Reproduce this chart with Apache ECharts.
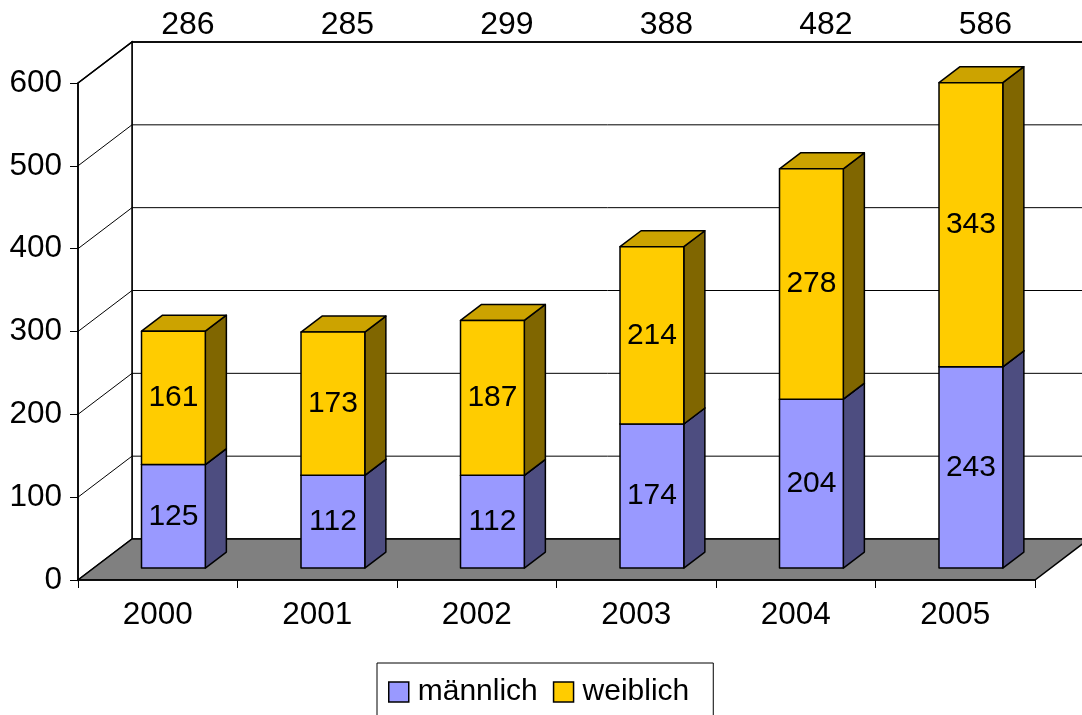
<!DOCTYPE html>
<html>
<head>
<meta charset="utf-8">
<script src="https://cdn.jsdelivr.net/npm/echarts@6/dist/echarts.min.js"></script>
<style>
  html, body { margin: 0; padding: 0; background: #fff; }
  #chart { width: 1082px; height: 715px; }
</style>
</head>
<body>
<div id="chart"></div>
<script>
const years = ['2000', '2001', '2002', '2003', '2004', '2005']
const maennlich = [125, 112, 112, 174, 204, 243]
const weiblich = [161, 173, 187, 214, 278, 343]
const yTicks = [0, 100, 200, 300, 400, 500, 600]

// pseudo 3d: depth vector of the plot box, bar placed between FRONT and BACK
const DEPTH = [54, -41]
const FRONT = 0.29
const BACK = 0.68
const BAR_RATIO = 0.4
const FONT = "'Liberation Sans', Arial, sans-serif"

const chart = echarts.init(document.getElementById('chart'))

function renderWalls(params, api) {
    const cs = params.coordSys
    const x0 = cs.x
    const x1 = cs.x + cs.width
    const yTop = cs.y
    const yBot = cs.y + cs.height
    const dx = DEPTH[0]
    const dy = DEPTH[1]
    const line = { stroke: '#000', lineWidth: 1, fill: null }
    const children = [
        {
            type: 'rect',
            shape: { x: x0 + dx, y: yTop + dy, width: cs.width, height: cs.height },
            style: { fill: '#fff', stroke: '#000', lineWidth: 1.5 }
        },
        {
            type: 'polygon',
            shape: { points: [[x0, yBot], [x0, yTop], [x0 + dx, yTop + dy], [x0 + dx, yBot + dy]] },
            style: { fill: '#fff', stroke: '#000', lineWidth: 1.5 }
        }
    ]
    yTicks.forEach(v => {
        if (v === 0) return
        const y = api.coord([0, v])[1]
        children.push({
            type: 'polyline',
            shape: { points: [[x0, y], [x0 + dx, y + dy], [x1 + dx, y + dy]] },
            style: Object.assign({}, line, { lineWidth: v === yTicks[yTicks.length - 1] ? 1.5 : 1 })
        })
    })
    children.push({
        type: 'polygon',
        shape: { points: [[x0, yBot], [x1, yBot], [x1 + dx, yBot + dy], [x0 + dx, yBot + dy]] },
        style: { fill: '#808080', stroke: '#000', lineWidth: 1.5 }
    })
    return { type: 'group', children: children }
}

function makeBarRenderer(colors, withTotal) {
    return function (params, api) {
        const i = api.value(0)
        const v = api.value(1)
        const base = api.value(2)
        const p0 = api.coord([i, base])
        const p1 = api.coord([i, base + v])
        const bw = api.size([1, 0])[0] * BAR_RATIO
        const xL = p0[0] - bw / 2 + DEPTH[0] * FRONT
        const yB = p0[1] + DEPTH[1] * FRONT
        const yT = p1[1] + DEPTH[1] * FRONT
        const dx = DEPTH[0] * (BACK - FRONT)
        const dy = DEPTH[1] * (BACK - FRONT)
        const edge = { stroke: '#000', lineWidth: 1.5, lineJoin: 'round' }
        const children = [
            {
                type: 'polygon',
                shape: { points: [[xL + bw, yB], [xL + bw + dx, yB + dy], [xL + bw + dx, yT + dy], [xL + bw, yT]] },
                style: Object.assign({ fill: colors.side }, edge)
            },
            {
                type: 'polygon',
                shape: { points: [[xL, yT], [xL + dx, yT + dy], [xL + bw + dx, yT + dy], [xL + bw, yT]] },
                style: Object.assign({ fill: colors.top }, edge)
            },
            {
                type: 'rect',
                shape: { x: xL, y: yT, width: bw, height: yB - yT },
                style: Object.assign({ fill: colors.front }, edge)
            },
            {
                type: 'text',
                style: {
                    text: String(v), x: xL + bw / 2, y: (yT + yB) / 2,
                    align: 'center', verticalAlign: 'middle',
                    font: '30px ' + FONT, fill: '#000'
                }
            }
        ]
        if (withTotal) {
            children.push({
                type: 'text',
                style: {
                    text: String(base + v),
                    x: p0[0] + DEPTH[0] * (FRONT + BACK) / 2 + 4,
                    y: params.coordSys.y - 58,
                    align: 'center', verticalAlign: 'middle',
                    font: '32px ' + FONT, fill: '#000'
                }
            })
        }
        return { type: 'group', children: children }
    }
}

const option = {
    backgroundColor: '#fff',
    animation: false,
    textStyle: { fontFamily: FONT },
    grid: { left: 78, right: 47, top: 83, bottom: 135 },
    legend: {
        data: ['männlich', 'weiblich'],
        left: 377,
        top: 663,
        orient: 'horizontal',
        icon: 'rect',
        itemWidth: 20,
        itemHeight: 20,
        itemGap: 15,
        padding: [14, 24, 14, 11],
        borderColor: '#000',
        borderWidth: 1,
        itemStyle: { borderColor: '#000', borderWidth: 1.5 },
        textStyle: { fontSize: 30, color: '#000', padding: [0, 0, 0, 4] }
    },
    xAxis: {
        type: 'category',
        data: years,
        boundaryGap: true,
        z: 5,
        axisLine: { lineStyle: { color: '#000', width: 1.5 } },
        axisTick: { show: true, length: 8, lineStyle: { color: '#000', width: 1 } },
        axisLabel: { fontSize: 31.5, color: '#000', margin: 19 },
        splitLine: { show: false }
    },
    yAxis: {
        type: 'value',
        min: 0,
        max: 600,
        interval: 100,
        z: 5,
        axisLine: { show: true, lineStyle: { color: '#000', width: 1.5 } },
        axisTick: { show: true, length: 8, lineStyle: { color: '#000', width: 1 } },
        axisLabel: { fontSize: 31.5, color: '#000', margin: 16 },
        splitLine: { show: false }
    },
    series: [
        {
            name: 'walls',
            type: 'custom',
            z: 1,
            renderItem: renderWalls,
            data: [[0, 0]],
            silent: true
        },
        {
            name: 'männlich',
            type: 'custom',
            z: 2,
            itemStyle: { color: '#9999FF' },
            renderItem: makeBarRenderer({ front: '#9999FF', side: '#4D4D80', top: '#7A7ACC' }, false),
            encode: { x: 0, y: 1 },
            data: maennlich.map((v, i) => [i, v, 0])
        },
        {
            name: 'weiblich',
            type: 'custom',
            z: 3,
            itemStyle: { color: '#FFCC00' },
            renderItem: makeBarRenderer({ front: '#FFCC00', side: '#806600', top: '#CCA300' }, true),
            encode: { x: 0, y: 1 },
            data: weiblich.map((v, i) => [i, v, maennlich[i]])
        }
    ]
}

chart.setOption(option)
window.addEventListener('resize', () => chart.resize())
</script>
</body>
</html>
